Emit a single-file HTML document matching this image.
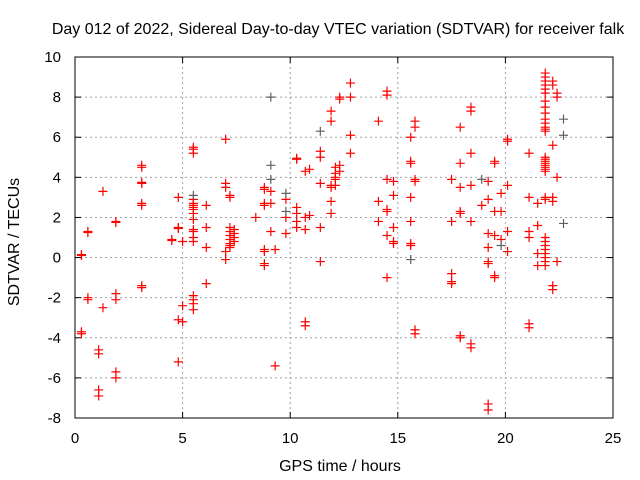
<!DOCTYPE html>
<html><head><meta charset="utf-8"><style>
html,body{margin:0;padding:0;background:#fff}
svg{display:block;font-family:"Liberation Sans",sans-serif}
</style></head><body>
<svg id="chart" width="640" height="480">
<rect width="640" height="480" fill="#fff"/>
<text x="338" y="34" font-size="16" text-anchor="middle" fill="#000">Day 012 of 2022, Sidereal Day-to-day VTEC variation (SDTVAR) for receiver falk</text>
<text x="340" y="471" font-size="16" text-anchor="middle">GPS time / hours</text>
<text x="14" y="237" font-size="16" text-anchor="middle" transform="rotate(-90 19 237)">SDTVAR / TECUs</text>
<g id="grid"></g>
<g id="ticks"></g>
<g id="marks"></g>
<rect x="75" y="57" width="538" height="361" fill="none" stroke="#000" stroke-width="1"/>
</svg>
<script>
const xTicks=[0,5,10,15,20,25];
const yTicks=[-8,-6,-4,-2,0,2,4,6,8,10];
const redHours=[0.3,0.6,1.1,1.3,1.9,3.1,4.5,4.8,5.0,5.5,6.1,7.0,7.2,7.4,8.4,8.8,9.1,9.3,9.8,10.3,10.7,10.9,11.4,11.9,12.1,12.3,12.8,14.1,14.5,14.8,15.6,15.8,17.5,17.9,18.4,18.9,19.2,19.5,19.8,20.1,21.1,21.5,21.85,22.2,22.4];
const redValues=[
[0.1,0.15,-3.8,-3.7],[1.3,1.25,-2.0,-2.1],[-4.6,-4.8,-6.6,-6.9],[3.3,-2.5],
[1.8,1.75,-1.8,-2.1,-5.7,-6.0],[4.6,4.5,3.7,3.75,2.7,2.6,-1.4,-1.5],[0.9,0.85],
[3.0,1.5,1.45,-3.1,-5.2],[0.8,-2.4,-3.2],
[5.5,5.4,5.2,2.9,2.7,2.6,2.5,2.4,2.2,1.9,1.4,1.3,1.0,0.8,-1.9,-2.1,-2.3,-2.6],
[2.6,1.5,0.5,-1.3],[5.9,3.7,3.5,0.3,-0.1],[3.1,3.0,1.5,1.3,1.1,0.9,0.7,0.6,0.5],[1.4,1.2,1.0,0.8],
[2.0],[3.5,3.4,2.7,2.6,0.4,0.3,-0.3,-0.4],[3.3,2.7,1.3],[0.4,-5.4],[2.9,2.0,1.2],
[4.95,4.9,2.5,2.2,1.8,1.5],[4.3,2.0,1.4,-3.2,-3.4],[4.4,2.1],[5.3,5.0,3.7,1.5,-0.2],
[7.3,6.8,3.6,3.5,2.8,2.2],[4.5,4.2,4.0,3.9,3.6],[8.0,7.9,4.6,4.3],[8.7,8.0,6.1,5.2],
[6.8,2.8,1.8],[8.3,8.1,3.9,2.4,2.3,1.1,-1.0],[3.8,3.1,1.5,0.8,0.7],
[6.0,4.8,4.7,3.0,1.8,0.7,0.6],[6.8,6.5,3.9,3.8,-3.6,-3.8],[3.9,1.8,-0.8,-1.2,-1.3],
[6.5,4.7,3.5,2.3,2.2,-3.9,-4.0],[7.5,7.3,5.2,3.6,1.8,-4.3,-4.5],[2.6],
[3.8,2.9,1.2,0.5,-0.2,-0.3,-7.3,-7.6],[4.8,4.7,2.3,1.1,-0.9,-1.0],[3.2,2.3,0.9],
[5.9,5.8,3.6,1.3,0.3],[5.2,3.0,1.0,1.3,-3.3,-3.5],[2.7,1.6,0.2,-0.4],
[9.2,9.0,8.8,8.6,8.4,8.2,7.8,7.5,7.2,6.9,6.7,6.5,6.4,6.3,5.0,4.9,4.8,4.7,4.6,4.5,4.4,4.3,3.0,2.9,1.0,0.8,0.6,0.4,0.2,0.0,-0.2,-0.4],
[8.8,8.6,5.6,3.0,2.8,-1.4,-1.6],[8.2,8.0,4.0,-0.2]];
const grayHours=[5.5,9.1,9.1,9.1,9.8,9.8,11.4,15.6,18.9,19.8,22.7,22.7,22.7];
const grayValues=[3.1,8.0,4.6,3.9,3.2,2.3,6.3,-0.1,3.9,0.6,6.9,6.1,1.7];

const L=75,R=613,T=57,B=418;
const sx=h=>L+(h-0)/(25-0)*(R-L);
const sy=v=>B-(v-(-8))/(10-(-8))*(B-T);
const NS='http://www.w3.org/2000/svg';
const grid=document.getElementById('grid'),ticks=document.getElementById('ticks'),marks=document.getElementById('marks');
function mk(tag,attrs,parent){const e=document.createElementNS(NS,tag);for(const k in attrs)e.setAttribute(k,attrs[k]);parent.appendChild(e);return e;}
xTicks.forEach(t=>{
  const x=sx(t);
  if(t>0&&t<25){const g=mk('line',{x1:x,x2:x,y1:T,y2:B,stroke:'#a0a0a0','stroke-dasharray':'2,3'},grid);
  
  }
  mk('line',{x1:x,x2:x,y1:B,y2:B-6,stroke:'#000'},ticks);
  mk('line',{x1:x,x2:x,y1:T,y2:T+6,stroke:'#000'},ticks);
  const tx=mk('text',{x:x,y:B+25,'font-size':15,'text-anchor':'middle'},ticks);tx.textContent=t;
  
  
});
yTicks.forEach(t=>{
  const y=sy(t);
  if(t>-8&&t<10){const g=mk('line',{x1:L,x2:R,y1:y,y2:y,stroke:'#a0a0a0','stroke-dasharray':'2,3'},grid);
  
  }
  mk('line',{x1:L,x2:L+6,y1:y,y2:y,stroke:'#000'},ticks);
  mk('line',{x1:R,x2:R-6,y1:y,y2:y,stroke:'#000'},ticks);
  const tx=mk('text',{x:L-14,y:y+5,'font-size':15,'text-anchor':'end'},ticks);tx.textContent=t;
  
  
});
function plus(h,v,color){
  const x=sx(h),y=sy(v);
  const p=mk('path',{d:`M${x-4.5},${y}H${x+4.5}M${x},${y-4.5}V${y+4.5}`,stroke:color,'stroke-width':1.2,fill:'none'},marks);
  
  
}
redHours.forEach((h,i)=>redValues[i].forEach(v=>plus(h,v,'#ff0000')));
grayHours.forEach((h,i)=>plus(h,grayValues[i],'#606060'));
</script>
</body></html>
